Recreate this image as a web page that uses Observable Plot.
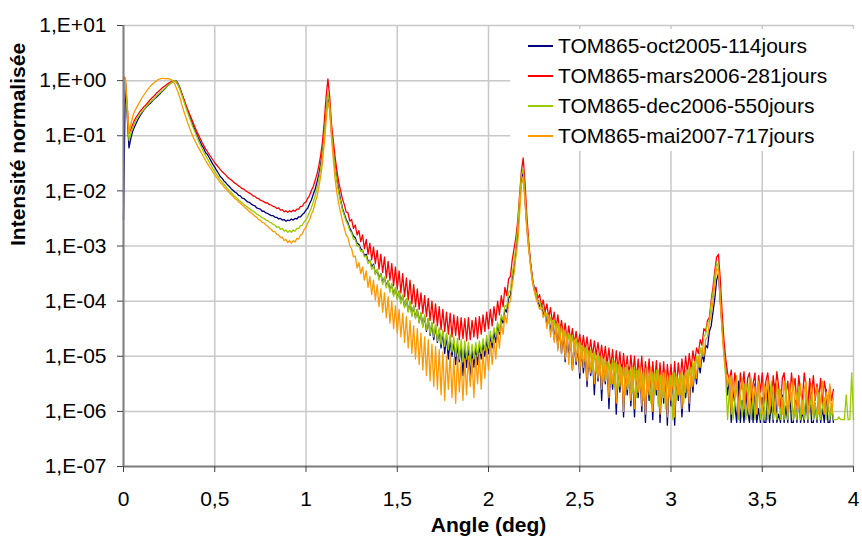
<!DOCTYPE html>
<html><head><meta charset="utf-8">
<script src="https://cdn.jsdelivr.net/npm/d3@7"></script>
<script src="https://cdn.jsdelivr.net/npm/@observablehq/plot@0.6"></script>
<style>
body{margin:0;background:#fff;}
#wrap{position:relative;width:862px;height:543px;font-family:"Liberation Sans",Arial,sans-serif;}
#legend{position:absolute;left:510px;top:29px;width:346px;height:122px;background:#fff;}
.item{position:absolute;left:18px;height:30px;display:flex;align-items:center;font-size:21px;color:#000;white-space:nowrap;}
.sw{display:inline-block;width:25px;height:0;border-top:2px solid;margin-right:5px;}
</style></head><body><div id="wrap"></div>
<script>
// Angle grid (deg) of the recorded curves
const angleStart = 0, angleStep = 0.01;

const seriesNames = ["TOM865-oct2005-114jours","TOM865-mars2006-281jours","TOM865-dec2006-550jours","TOM865-mai2007-717jours"];
const seriesColors = ["#000080","#ff0000","#99cc00","#ff9900"];

// log10 of normalised intensity, one value per angle step
const logOct2005 = [
-2.53,0.00,-0.62,-1.22,-1.05,-0.92,-0.84,-0.77,-0.70,-0.64,
-0.59,-0.54,-0.50,-0.46,-0.43,-0.40,-0.36,-0.33,-0.30,-0.27,
-0.24,-0.20,-0.17,-0.14,-0.10,-0.07,-0.04,-0.02,0.00,-0.01,
-0.06,-0.14,-0.24,-0.34,-0.44,-0.53,-0.62,-0.71,-0.80,-0.88,
-0.96,-1.04,-1.11,-1.18,-1.23,-1.31,-1.34,-1.40,-1.46,-1.52,
-1.57,-1.63,-1.68,-1.74,-1.77,-1.82,-1.85,-1.89,-1.92,-1.96,
-1.99,-2.02,-2.04,-2.08,-2.09,-2.13,-2.14,-2.17,-2.20,-2.21,
-2.24,-2.26,-2.27,-2.31,-2.32,-2.33,-2.37,-2.37,-2.40,-2.41,
-2.43,-2.45,-2.45,-2.48,-2.48,-2.51,-2.50,-2.53,-2.52,-2.55,
-2.53,-2.54,-2.51,-2.53,-2.50,-2.51,-2.47,-2.47,-2.43,-2.40,
-2.35,-2.31,-2.23,-2.16,-2.06,-1.97,-1.84,-1.71,-1.52,-1.30,
-1.00,-0.62,-0.28,-0.50,-0.95,-1.27,-1.55,-1.80,-2.00,-2.17,
-2.32,-2.42,-2.52,-2.58,-2.68,-2.74,-2.82,-2.85,-2.95,-2.97,
-3.05,-3.08,-3.17,-3.15,-3.28,-3.26,-3.38,-3.33,-3.50,-3.44,
-3.58,-3.50,-3.66,-3.58,-3.72,-3.63,-3.80,-3.70,-3.88,-3.78,
-3.95,-3.82,-4.02,-3.90,-4.10,-3.97,-4.18,-4.02,-4.25,-4.10,
-4.30,-4.15,-4.38,-4.22,-4.45,-4.28,-4.55,-4.32,-4.62,-4.40,
-4.70,-4.45,-4.75,-4.52,-4.85,-4.55,-4.95,-4.62,-5.05,-4.70,
-5.00,-4.72,-5.15,-4.78,-5.10,-4.80,-5.35,-4.85,-5.20,-4.82,
-5.45,-4.88,-5.20,-4.85,-5.15,-4.80,-5.05,-4.75,-5.00,-4.70,
-4.95,-4.62,-4.85,-4.55,-4.75,-4.42,-4.60,-4.30,-4.40,-4.15,
-4.20,-3.95,-3.90,-3.60,-3.40,-3.10,-2.80,-2.25,-1.80,-1.62,
-2.15,-2.65,-3.00,-3.30,-3.60,-3.75,-3.90,-3.98,-4.10,-4.05,
-4.25,-4.15,-4.45,-4.25,-4.55,-4.35,-4.70,-4.40,-4.85,-4.50,
-4.95,-4.55,-5.10,-4.62,-5.00,-4.70,-5.25,-4.75,-5.15,-4.80,
-5.40,-4.85,-5.30,-4.90,-5.55,-4.95,-5.35,-5.00,-5.70,-5.05,
-5.45,-5.00,-5.80,-5.10,-5.50,-5.05,-5.95,-5.15,-5.60,-5.10,
-6.05,-5.20,-5.65,-5.15,-6.10,-5.25,-5.70,-5.20,-5.90,-5.30,
-6.10,-5.25,-5.75,-5.20,-6.00,-5.35,-6.20,-5.30,-5.80,-5.25,
-6.15,-5.35,-5.70,-5.30,-6.20,-5.40,-5.85,-5.30,-6.25,-5.40,
-5.90,-5.35,-6.25,-5.45,-5.80,-5.40,-6.10,-5.45,-5.75,-5.35,
-6.00,-5.30,-5.65,-5.20,-5.50,-5.10,-5.30,-4.95,-5.10,-4.80,
-4.85,-4.55,-4.45,-4.20,-3.95,-3.62,-3.50,-4.00,-4.45,-4.90,
-5.20,-5.70,-5.40,-6.20,-5.55,-5.90,-6.20,-5.45,-6.20,-5.80,
-6.20,-5.60,-6.00,-6.20,-5.70,-6.20,-5.50,-6.20,-5.95,-6.20,
-5.75,-6.20,-6.20,-5.60,-6.20,-5.85,-6.20,-5.50,-6.20,-6.05,
-6.20,-5.70,-6.20,-5.90,-6.20,-5.55,-6.20,-6.20,-5.80,-6.20,
-5.65,-6.20,-6.00,-6.20,-5.75,-6.20,-5.50,-6.20,-6.20,-5.85,
-6.20,-5.70,-6.20,-5.95,-6.20,-5.60,-6.20,-6.20,-5.90,-6.20
];
const logMars2006 = [
0.08,0.02,-0.45,-0.96,-0.88,-0.80,-0.72,-0.66,-0.61,-0.56,
-0.52,-0.48,-0.45,-0.41,-0.37,-0.33,-0.30,-0.27,-0.23,-0.20,
-0.17,-0.14,-0.11,-0.09,-0.06,-0.04,-0.02,0.00,0.00,-0.03,
-0.08,-0.15,-0.24,-0.33,-0.42,-0.51,-0.59,-0.67,-0.75,-0.83,
-0.91,-0.98,-1.05,-1.12,-1.18,-1.24,-1.29,-1.34,-1.39,-1.44,
-1.49,-1.53,-1.57,-1.61,-1.65,-1.68,-1.71,-1.75,-1.78,-1.80,
-1.83,-1.86,-1.88,-1.91,-1.93,-1.96,-1.97,-2.00,-2.02,-2.04,
-2.06,-2.09,-2.10,-2.13,-2.14,-2.17,-2.18,-2.20,-2.22,-2.22,
-2.25,-2.26,-2.28,-2.29,-2.32,-2.31,-2.35,-2.34,-2.38,-2.36,
-2.39,-2.36,-2.38,-2.35,-2.37,-2.33,-2.33,-2.28,-2.28,-2.22,
-2.20,-2.13,-2.08,-1.99,-1.92,-1.81,-1.70,-1.55,-1.36,-1.12,
-0.75,-0.30,0.03,-0.30,-0.80,-1.10,-1.40,-1.65,-1.85,-2.00,
-2.15,-2.25,-2.38,-2.40,-2.55,-2.52,-2.68,-2.62,-2.80,-2.72,
-2.92,-2.80,-3.05,-2.88,-3.15,-2.95,-3.25,-3.02,-3.32,-3.08,
-3.42,-3.15,-3.48,-3.20,-3.58,-3.28,-3.62,-3.32,-3.72,-3.38,
-3.78,-3.45,-3.85,-3.50,-3.92,-3.58,-3.98,-3.62,-4.05,-3.70,
-4.10,-3.78,-4.15,-3.85,-4.22,-3.90,-4.28,-3.95,-4.35,-4.00,
-4.40,-4.05,-4.45,-4.10,-4.52,-4.15,-4.55,-4.20,-4.60,-4.22,
-4.65,-4.25,-4.62,-4.28,-4.70,-4.30,-4.68,-4.32,-4.72,-4.30,
-4.70,-4.35,-4.65,-4.30,-4.68,-4.28,-4.60,-4.25,-4.55,-4.20,
-4.50,-4.15,-4.45,-4.10,-4.35,-4.00,-4.25,-3.90,-4.10,-3.75,
-3.90,-3.60,-3.55,-3.25,-3.05,-2.85,-2.55,-2.10,-1.65,-1.40,
-1.85,-2.45,-2.90,-3.30,-3.55,-3.80,-3.75,-3.95,-3.88,-4.10,
-3.98,-4.20,-4.05,-4.30,-4.12,-4.40,-4.20,-4.50,-4.25,-4.55,
-4.35,-4.62,-4.40,-4.70,-4.45,-4.72,-4.50,-4.78,-4.55,-4.82,
-4.60,-4.88,-4.62,-4.90,-4.65,-4.95,-4.70,-5.00,-4.72,-4.98,
-4.75,-5.05,-4.80,-5.10,-4.82,-5.15,-4.85,-5.20,-4.88,-5.30,
-4.90,-5.25,-4.92,-5.35,-4.95,-5.30,-5.00,-5.40,-4.98,-5.35,
-5.00,-5.45,-5.05,-5.40,-5.00,-5.50,-5.10,-5.45,-5.05,-5.55,
-5.10,-5.50,-5.08,-5.60,-5.12,-5.55,-5.10,-5.65,-5.15,-5.50,
-5.15,-5.60,-5.10,-5.55,-5.12,-5.45,-5.05,-5.40,-5.00,-5.30,
-4.95,-5.25,-4.90,-5.10,-4.85,-4.95,-4.70,-4.80,-4.50,-4.55,
-4.35,-4.30,-4.00,-3.75,-3.45,-3.20,-3.15,-3.60,-4.20,-4.70,
-5.05,-5.30,-5.45,-5.25,-5.70,-5.30,-5.55,-5.95,-5.30,-5.60,
-5.28,-5.80,-5.40,-5.30,-5.75,-5.50,-5.30,-6.00,-5.35,-5.65,
-5.30,-5.85,-5.45,-5.30,-5.60,-5.90,-5.35,-5.70,-5.28,-5.55,
-5.95,-5.40,-5.30,-5.70,-5.45,-5.85,-5.30,-5.60,-5.40,-5.90,
-5.35,-5.65,-5.80,-5.30,-5.55,-5.95,-5.40,-5.70,-5.35,-5.80,
-5.50,-5.75,-5.40,-5.90,-5.45,-5.65,-6.00,-5.55,-5.80,-5.60
];
const logDec2006 = [
0.00,-0.02,-0.55,-1.08,-0.95,-0.86,-0.78,-0.71,-0.66,-0.61,
-0.57,-0.53,-0.49,-0.45,-0.41,-0.38,-0.35,-0.32,-0.28,-0.25,
-0.22,-0.19,-0.16,-0.13,-0.10,-0.07,-0.04,-0.02,0.00,-0.02,
-0.08,-0.17,-0.27,-0.37,-0.47,-0.57,-0.66,-0.75,-0.84,-0.92,
-1.00,-1.08,-1.16,-1.23,-1.30,-1.36,-1.42,-1.48,-1.54,-1.60,
-1.65,-1.70,-1.75,-1.80,-1.84,-1.88,-1.92,-1.96,-2.00,-2.03,
-2.07,-2.10,-2.13,-2.16,-2.19,-2.22,-2.25,-2.27,-2.30,-2.32,
-2.35,-2.37,-2.39,-2.42,-2.44,-2.46,-2.49,-2.50,-2.53,-2.54,
-2.57,-2.58,-2.61,-2.62,-2.66,-2.65,-2.70,-2.68,-2.73,-2.71,
-2.75,-2.72,-2.75,-2.71,-2.73,-2.68,-2.68,-2.63,-2.62,-2.56,
-2.52,-2.46,-2.38,-2.30,-2.20,-2.09,-1.96,-1.80,-1.60,-1.35,
-1.00,-0.60,-0.22,-0.45,-0.95,-1.30,-1.60,-1.85,-2.05,-2.20,
-2.35,-2.45,-2.55,-2.62,-2.72,-2.76,-2.88,-2.88,-3.00,-3.00,
-3.10,-3.08,-3.20,-3.18,-3.32,-3.25,-3.42,-3.35,-3.52,-3.42,
-3.62,-3.50,-3.70,-3.56,-3.76,-3.62,-3.84,-3.68,-3.92,-3.75,
-3.98,-3.82,-4.05,-3.88,-4.12,-3.95,-4.20,-4.00,-4.28,-4.08,
-4.32,-4.15,-4.40,-4.20,-4.48,-4.25,-4.52,-4.32,-4.60,-4.38,
-4.65,-4.42,-4.72,-4.48,-4.78,-4.52,-4.82,-4.58,-4.88,-4.60,
-4.92,-4.65,-5.00,-4.68,-5.05,-4.70,-5.10,-4.72,-5.05,-4.75,
-5.10,-4.78,-5.05,-4.75,-5.00,-4.72,-4.95,-4.68,-4.90,-4.62,
-4.85,-4.55,-4.75,-4.48,-4.65,-4.38,-4.55,-4.25,-4.35,-4.08,
-4.10,-3.85,-3.80,-3.50,-3.30,-3.00,-2.65,-2.15,-1.72,-1.60,
-2.10,-2.62,-3.00,-3.35,-3.60,-3.80,-3.85,-4.02,-4.00,-4.15,
-4.12,-4.28,-4.22,-4.40,-4.30,-4.50,-4.35,-4.58,-4.40,-4.65,
-4.48,-4.72,-4.55,-4.80,-4.60,-4.85,-4.62,-4.92,-4.68,-4.95,
-4.75,-5.05,-4.80,-5.10,-4.82,-5.20,-4.88,-5.25,-4.92,-5.30,
-4.95,-5.35,-5.00,-5.45,-5.05,-5.40,-5.10,-5.50,-5.05,-5.55,
-5.12,-5.60,-5.15,-5.50,-5.20,-5.70,-5.15,-5.55,-5.25,-5.65,
-5.20,-5.75,-5.25,-5.60,-5.30,-5.80,-5.22,-5.65,-5.35,-5.85,
-5.30,-5.70,-5.25,-5.90,-5.35,-5.75,-5.30,-5.95,-5.40,-5.70,
-5.35,-6.15,-5.30,-5.80,-5.40,-5.70,-5.30,-5.85,-5.25,-5.60,
-5.20,-5.55,-5.10,-5.40,-5.00,-5.20,-4.85,-5.00,-4.65,-4.60,
-4.40,-4.35,-4.05,-3.85,-3.55,-3.30,-3.40,-3.95,-4.50,-5.00,
-5.40,-6.15,-5.60,-5.35,-6.15,-5.80,-5.45,-6.15,-5.70,-6.10,
-5.50,-6.15,-5.85,-5.40,-6.15,-5.65,-6.15,-5.75,-5.50,-6.15,
-5.90,-6.15,-5.55,-6.15,-5.80,-5.45,-6.15,-5.95,-6.15,-5.60,
-6.15,-5.75,-6.15,-5.50,-6.15,-5.85,-5.65,-6.15,-5.90,-6.15,
-5.55,-6.15,-5.80,-6.15,-5.60,-6.15,-5.95,-5.70,-6.15,-5.85,
-6.15,-5.65,-6.15,-5.90,-5.75,-6.15,-5.70,-6.15,-5.85,-6.15,
-6.15,-6.15,-6.10,-6.15,-6.15,-6.15,-5.70,-6.15,-6.15,-5.30,
-6.15
];
const logMai2007 = [
0.08,0.05,-0.40,-0.95,-0.80,-0.66,-0.56,-0.50,-0.44,-0.38,
-0.32,-0.27,-0.22,-0.17,-0.13,-0.09,-0.06,-0.03,-0.01,0.02,
0.03,0.04,0.04,0.03,0.04,0.03,0.02,0.00,-0.06,-0.14,
-0.22,-0.32,-0.44,-0.55,-0.65,-0.75,-0.84,-0.93,-1.01,-1.08,
-1.15,-1.21,-1.27,-1.33,-1.39,-1.45,-1.50,-1.56,-1.61,-1.66,
-1.71,-1.76,-1.80,-1.85,-1.88,-1.93,-1.96,-2.00,-2.03,-2.07,
-2.10,-2.14,-2.16,-2.20,-2.22,-2.26,-2.28,-2.32,-2.34,-2.38,
-2.40,-2.43,-2.46,-2.48,-2.52,-2.53,-2.57,-2.58,-2.62,-2.64,
-2.68,-2.70,-2.74,-2.74,-2.79,-2.80,-2.85,-2.84,-2.90,-2.88,
-2.94,-2.90,-2.95,-2.90,-2.93,-2.86,-2.87,-2.80,-2.78,-2.70,
-2.66,-2.58,-2.52,-2.42,-2.35,-2.22,-2.10,-1.94,-1.74,-1.50,
-1.15,-0.75,-0.38,-0.55,-1.05,-1.45,-1.80,-2.05,-2.25,-2.40,
-2.55,-2.68,-2.80,-2.85,-3.00,-3.05,-3.20,-3.18,-3.40,-3.30,
-3.50,-3.38,-3.62,-3.45,-3.75,-3.55,-3.88,-3.62,-3.98,-3.70,
-4.10,-3.78,-4.20,-3.85,-4.30,-3.92,-4.40,-4.00,-4.50,-4.08,
-4.58,-4.15,-4.65,-4.22,-4.75,-4.28,-4.85,-4.35,-4.95,-4.45,
-5.05,-4.50,-5.15,-4.58,-5.25,-4.65,-5.35,-4.70,-5.45,-4.78,
-5.55,-4.82,-5.60,-4.88,-5.70,-4.92,-5.80,-5.00,-5.60,-4.95,
-5.75,-5.05,-5.85,-5.00,-5.65,-5.10,-5.80,-5.05,-5.70,-5.00,
-5.55,-5.05,-5.75,-4.98,-5.50,-4.95,-5.60,-4.90,-5.40,-4.85,
-5.25,-4.75,-5.15,-4.70,-5.05,-4.55,-4.85,-4.40,-4.60,-4.25,
-4.40,-4.05,-4.00,-3.70,-3.50,-3.20,-2.95,-2.45,-1.90,-1.75,
-2.20,-2.70,-3.05,-3.35,-3.65,-3.80,-3.95,-4.05,-4.15,-4.12,
-4.30,-4.20,-4.50,-4.25,-4.65,-4.35,-4.75,-4.40,-4.90,-4.45,
-4.95,-4.50,-5.05,-4.58,-5.15,-4.62,-5.25,-4.70,-5.10,-4.75,
-5.30,-4.80,-5.20,-4.85,-5.45,-4.90,-5.30,-4.95,-5.50,-5.00,
-5.40,-5.00,-5.60,-5.05,-5.45,-5.10,-5.75,-5.15,-5.50,-5.10,
-5.85,-5.15,-5.55,-5.20,-6.00,-5.20,-5.60,-5.25,-5.80,-5.20,
-5.95,-5.25,-5.65,-5.20,-5.90,-5.30,-6.05,-5.25,-5.70,-5.20,
-6.00,-5.30,-5.60,-5.25,-6.05,-5.30,-5.75,-5.25,-6.10,-5.35,
-5.80,-5.30,-6.10,-5.35,-5.70,-5.30,-5.95,-5.35,-5.65,-5.25,
-5.85,-5.20,-5.55,-5.10,-5.40,-5.00,-5.20,-4.85,-5.00,-4.70,
-4.65,-4.40,-4.25,-4.00,-3.70,-3.40,-3.45,-4.00,-4.55,-4.95,
-5.25,-5.55,-5.35,-6.05,-5.45,-5.75,-5.35,-6.05,-5.60,-5.40,
-5.95,-5.50,-5.70,-6.05,-5.40,-5.85,-5.55,-6.05,-5.45,-5.75,
-6.05,-5.50,-5.80,-5.40,-6.05,-5.65,-5.55,-6.05,-5.45,-5.90,
-5.60,-6.05,-5.45,-5.75,-6.05,-5.50,-5.85,-5.40,-6.05,-5.65,
-5.95,-5.50,-6.05,-5.60,-5.45,-6.05,-5.75,-5.50,-6.05,-5.70,
-5.55,-6.05,-5.80,-5.45,-6.05,-5.65,-5.90,-5.50,-6.05,-5.75
];

const xTicks = [0, 0.5, 1, 1.5, 2, 2.5, 3, 3.5, 4];
const yTickExponents = [1, 0, -1, -2, -3, -4, -5, -6, -7];

const seriesLogs = [logOct2005, logMars2006, logDec2006, logMai2007];
const rows = [];
seriesLogs.forEach((vals, s) => {
  vals.forEach((v, i) => rows.push({
    series: seriesNames[s],
    angle: +(angleStart + i * angleStep).toFixed(2),
    intensity: Math.pow(10, v)
  }));
});
const yTicks = yTickExponents.map(e => Math.pow(10, e));
const fmtY = d => { const e = Math.round(Math.log10(d)); return "1,E" + (e >= 0 ? "+" : "-") + String(Math.abs(e)).padStart(2, "0"); };
const fmtX = d => String(d).replace(".", ",");

const grid = {stroke: "#c8c8c8", strokeOpacity: 1, strokeWidth: 1.5};
const plot = Plot.plot({
  width: 862, height: 543,
  marginLeft: 123, marginRight: 9, marginTop: 25, marginBottom: 77,
  style: {fontFamily: '"Liberation Sans", Arial, sans-serif', fontSize: "21px", background: "#fff", color: "#000", overflow: "visible"},
  x: {domain: [0, 4]},
  y: {type: "log", domain: [1e-7, 10]},
  color: {domain: seriesNames, range: seriesColors},
  marks: [
    Plot.gridX(xTicks, grid),
    Plot.gridY(yTicks, grid),
    Plot.line(rows, {x: "angle", y: "intensity", z: "series", stroke: "series", strokeWidth: 1.3}),
    Plot.ruleX([0], {stroke: "#808080", strokeWidth: 2}),
    Plot.ruleY([1e-7], {stroke: "#808080", strokeWidth: 2}),
    Plot.axisX(xTicks, {tickSize: 6, tickPadding: 19, tickFormat: fmtX, label: null, stroke: "#404040"}),
    Plot.axisY(yTicks, {tickSize: 6, tickPadding: 11, tickFormat: fmtY, label: null, stroke: "#404040"}),
    Plot.text(["Angle (deg)"], {frameAnchor: "bottom", dy: 65, fontWeight: "bold", fontSize: 21}),
    Plot.text(["Intensité normalisée"], {frameAnchor: "left", dx: -105, rotate: -90, fontWeight: "bold", fontSize: 21})
  ]
});
const wrap = document.getElementById("wrap");
wrap.appendChild(plot);
const legend = document.createElement("div");
legend.id = "legend";
seriesNames.forEach((n, i) => {
  const it = document.createElement("div");
  it.className = "item";
  it.style.top = (2 + i * 30) + "px";
  const sw = document.createElement("span");
  sw.className = "sw";
  sw.style.borderTopColor = seriesColors[i];
  it.appendChild(sw);
  it.appendChild(document.createTextNode(n));
  legend.appendChild(it);
});
wrap.appendChild(legend);
</script>
</body></html>
